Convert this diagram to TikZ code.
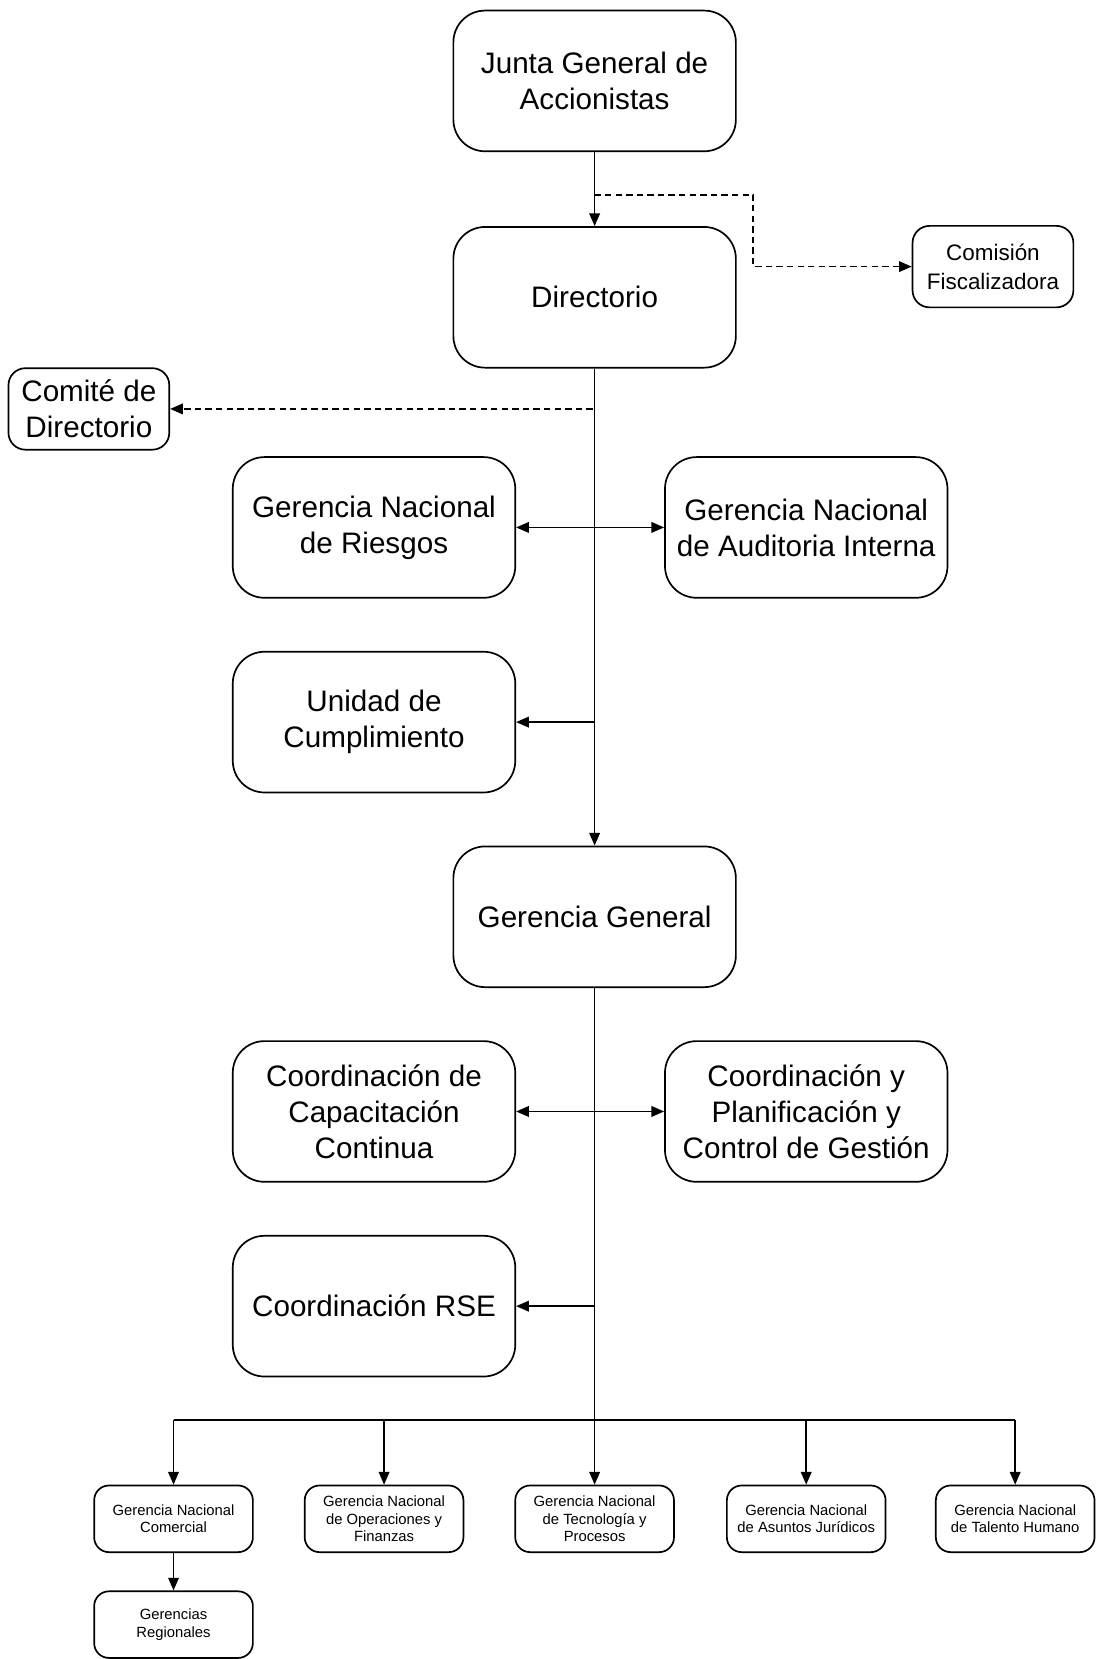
\documentclass[tikz,border=0pt]{standalone}
\usepackage{fontspec}
\setmainfont{Liberation Sans}
\usetikzlibrary{arrows.meta}
\begin{document}
\begin{tikzpicture}[x=0.5pt,y=-0.5pt,
  line width=0.8pt,
  >={Triangle[length=6pt,width=5pt]},
  bigbox/.style={draw, rounded corners=15pt, minimum width=133.5pt, minimum height=66.5pt,
    align=center, inner sep=0pt, font=\fontsize{14}{17}\selectfont},
  sidebox/.style={draw, rounded corners=8pt, minimum width=76pt, minimum height=38.5pt,
    align=center, inner sep=0pt},
  smallbox/.style={draw, rounded corners=7pt, minimum width=75pt, minimum height=31.5pt,
    align=center, inner sep=0pt, font=\fontsize{7}{8.25}\selectfont},
  dsh/.style={dash pattern=on 3pt off 2pt, ->},
]
\useasboundingbox (0,0) rectangle (1035,1568);

% governing bodies
\node[bigbox] (junta) at (562,76.5) {Junta General de\\Accionistas};
\node[bigbox] (dir) at (562,281) {Directorio};
\node[sidebox, font=\fontsize{10.6}{13.5}\selectfont] (comision) at (938.5,252) {Comisión\\Fiscalizadora};
\node[sidebox, font=\fontsize{14}{17}\selectfont] (comite) at (84,386.5) {Comité de\\Directorio};

% units reporting to the board
\node[bigbox] (riesgos) at (353.5,498.5) {Gerencia Nacional\\de Riesgos};
\node[bigbox] (auditoria) at (762,498.5) {Gerencia Nacional\\de Auditoria Interna};
\node[bigbox] (cumpl) at (353.5,682.5) {Unidad de\\Cumplimiento};
\node[bigbox] (gg) at (562,866.5) {Gerencia General};

% units reporting to general management
\node[bigbox] (capac) at (353.5,1050.5) {Coordinación de\\Capacitación\\Continua};
\node[bigbox] (planif) at (762,1050.5) {Coordinación y\\Planificación y\\Control de Gestión};
\node[bigbox] (rse) at (353.5,1234.5) {Coordinación RSE};

% national managements
\node[smallbox] (g1) at (164,1435.5) {Gerencia Nacional\\Comercial};
\node[smallbox] (g2) at (363,1435.5) {Gerencia Nacional\\de Operaciones y\\Finanzas};
\node[smallbox] (g3) at (562,1435.5) {Gerencia Nacional\\de Tecnología y\\Procesos};
\node[smallbox] (g4) at (762,1435.5) {Gerencia Nacional\\de Asuntos Jurídicos};
\node[smallbox] (g5) at (959.5,1435.5) {Gerencia Nacional\\de Talento Humano};
\node[smallbox] (reg) at (164,1535.5) {Gerencias\\Regionales};

% main vertical line
\draw[->] (junta.south) -- (dir.north);
\draw[->] (dir.south) -- (gg.north);
\draw[->] (gg.south) -- (g3.north);

% dotted-line relations
\coordinate (fk) at (562,184);
\coordinate (fb) at (712,252);
\draw[dsh] (junta.south) -- (fk) -| (fb) -- (comision.west);
\draw[dsh] (dir.south) |- (comite.east);

% branches off the main line
\draw[<->] (riesgos.east) -- (auditoria.west);
\draw[->] (dir.south |- cumpl.east) -- (cumpl.east);
\draw[<->] (capac.east) -- (planif.west);
\draw[->] (gg.south |- rse.east) -- (rse.east);

% distribution bus
\coordinate (bus) at (562,1342);
\draw (g1.north |- bus) -- (g5.north |- bus);
\foreach \g in {g1,g2,g4,g5}
  \draw[->] (\g.north |- bus) -- (\g.north);
\draw[->] (g1.south) -- (reg.north);
\end{tikzpicture}
\end{document}
